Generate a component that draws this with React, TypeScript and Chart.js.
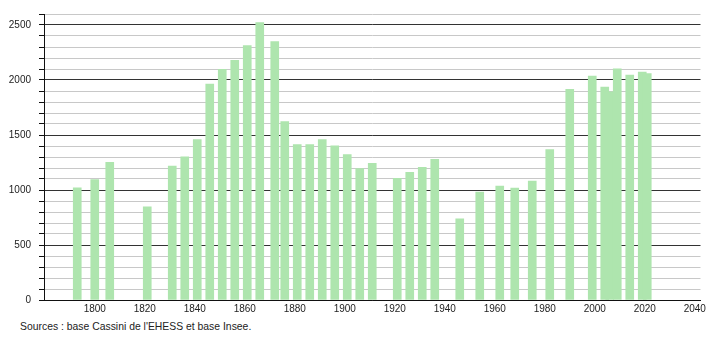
import React, { useEffect, useRef } from "react";
import { Chart, registerables } from "chart.js";

Chart.register(...registerables);

const years = [
  1793, 1800, 1806, 1821, 1831, 1836, 1841, 1846, 1851, 1856, 1861, 1866, 1872, 1876,
  1881, 1886, 1891, 1896, 1901, 1906, 1911, 1921, 1926, 1931, 1936, 1946, 1954, 1962,
  1968, 1975, 1982, 1990, 1999, 2004, 2006, 2009, 2014, 2019, 2021,
];
const population = [
  1020, 1095, 1251, 846, 1218, 1302, 1458, 1963, 2098, 2178, 2314, 2521, 2350, 1621,
  1413, 1413, 1458, 1401, 1323, 1194, 1242, 1107, 1161, 1206, 1278, 738, 981, 1035,
  1017, 1080, 1368, 1915, 2035, 1936, 1893, 2101, 2044, 2071, 2059,
];
const xTickLabels = [1800, 1820, 1840, 1860, 1880, 1900, 1920, 1940, 1960, 1980, 2000, 2020, 2040];
const sourceText = "Sources : base Cassini de l'EHESS et base Insee.";

const FONT = "'Liberation Sans', Arial, sans-serif";

export default function App() {
  const ref = useRef<HTMLCanvasElement | null>(null);

  useEffect(() => {
    document.body.style.margin = "0";
    const canvas = ref.current;
    if (!canvas) return;
    const chart = new Chart(canvas, {
      type: "bar",
      data: {
        datasets: [
          {
            data: years.map((y, i) => ({ x: y, y: population[i] })),
            backgroundColor: "#aee5ae",
            borderWidth: 0,
            barThickness: 8,
          },
        ],
      },
      options: {
        animation: false,
        responsive: false,
        maintainAspectRatio: false,
        layout: { padding: { top: 10, right: 9.5, left: 0, bottom: 0 } },
        plugins: { legend: { display: false }, tooltip: { enabled: false }, title: { display: false } },
        scales: {
          x: {
            type: "linear",
            min: 1779.7,
            max: 2042.3,
            offset: false,
            grid: { display: false, drawTicks: false },
            border: { display: true, color: "#111", width: 1 },
            afterBuildTicks: (s: any) => {
              s.ticks = xTickLabels.map((v) => ({ value: v }));
            },
            afterFit: (s: any) => {
              s.height = 15;
            },
            ticks: {
              padding: 3,
              color: "#222",
              font: { family: FONT, size: 10 },
              callback: (v: any) => String(v),
              maxRotation: 0,
              autoSkip: false,
            },
          },
          y: {
            min: 0,
            max: 2600,
            afterFit: (s: any) => {
              s.width = 44;
            },
            grid: {
              color: (ctx: any) => (ctx.tick && ctx.tick.value % 500 === 0 ? "#333" : "#c8c8c8"),
              tickColor: "#111",
              tickLength: 5,
              lineWidth: 1,
            },
            border: { display: true, color: "#111", width: 1 },
            ticks: {
              stepSize: 100,
              padding: 8,
              color: "#222",
              font: { family: FONT, size: 10 },
              autoSkip: false,
              callback: (v: any) => (Number(v) % 500 === 0 ? String(v) : ""),
            },
          },
        },
      },
    });
    return () => chart.destroy();
  }, []);

  return (
    <div style={{ position: "relative", width: 710, height: 340, background: "#fff" }}>
      <canvas ref={ref} width={710} height={315} style={{ display: "block" }} />
      <div
        style={{
          position: "absolute",
          left: 20,
          top: 321,
          fontFamily: FONT,
          fontSize: 10.4,
          lineHeight: "12px",
          color: "#222",
          whiteSpace: "nowrap",
        }}
      >
        {sourceText}
      </div>
    </div>
  );
}
